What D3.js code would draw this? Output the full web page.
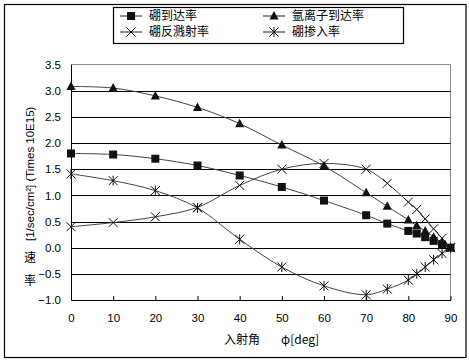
<!DOCTYPE html>
<html>
<head>
<meta charset="utf-8">
<script src="https://cdn.jsdelivr.net/npm/d3@7"></script>
<style>
  body { margin: 0; background: #fff; }
  text { font-family: "Liberation Sans", Arial, sans-serif; fill: #000; }
  .cjk { font-family: "Noto Sans CJK SC", "Noto Sans CJK JP", sans-serif; }
</style>
</head>
<body>
<svg width="469" height="362"></svg>
<script>
const svg = d3.select("svg");

// data
const angles = [0, 10, 20, 30, 40, 50, 60, 70, 75, 80, 82, 84, 86, 88, 90];
const boronArrival = [1.80, 1.78, 1.70, 1.57, 1.38, 1.16, 0.90, 0.62, 0.46, 0.32, 0.27, 0.20, 0.13, 0.06, 0];
const argonArrival = [3.08, 3.05, 2.90, 2.68, 2.37, 1.96, 1.56, 1.05, 0.79, 0.53, 0.42, 0.32, 0.20, 0.10, 0];
const boronSputter = [0.40, 0.48, 0.59, 0.77, 1.19, 1.50, 1.61, 1.50, 1.23, 0.87, 0.73, 0.55, 0.36, 0.18, 0];
const boronDoping = [1.41, 1.28, 1.09, 0.76, 0.16, -0.37, -0.73, -0.90, -0.79, -0.62, -0.50, -0.37, -0.23, -0.11, 0];

const seriesNames = ["硼到达率", "氩离子到达率", "硼反溅射率", "硼掺入率"];
const xTicks = [0, 10, 20, 30, 40, 50, 60, 70, 80, 90];
const yTicks = [-1, -0.5, 0, 0.5, 1, 1.5, 2, 2.5, 3, 3.5];

const series = [
  { name: seriesNames[0], values: boronArrival, marker: "square" },
  { name: seriesNames[1], values: argonArrival, marker: "triangle" },
  { name: seriesNames[2], values: boronSputter, marker: "cross" },
  { name: seriesNames[3], values: boronDoping, marker: "star" }
];

const plotLeft = 71, plotRight = 450.5, plotTop = 64.5, plotBottom = 300;

const x = d3.scaleLinear().domain([0, 90]).range([plotLeft, plotRight]);
const y = d3.scaleLinear().domain([-1, 3.5]).range([plotBottom, plotTop]);

// outer frame
svg.append("rect")
  .attr("x", 4.5).attr("y", 4.5)
  .attr("width", 461.5).attr("height", 353)
  .attr("fill", "none").attr("stroke", "#000").attr("stroke-width", 1.2);

// plot border (top/right gray)
svg.append("path")
  .attr("d", `M${plotLeft},${plotTop}H${plotRight}V${plotBottom}`)
  .attr("fill", "none").attr("stroke", "#8c8c8c");

// gridlines
svg.append("g").selectAll("line")
  .data(yTicks.filter(v => v > -1 && v < 3.5))
  .enter().append("line")
    .attr("x1", plotLeft).attr("x2", plotRight)
    .attr("y1", d => Math.round(y(d)) + 0.5)
    .attr("y2", d => Math.round(y(d)) + 0.5)
    .attr("stroke", "#000");

// axes
const xAxis = svg.append("g")
  .attr("transform", `translate(0,${plotBottom})`)
  .call(d3.axisBottom(x).tickValues(xTicks).tickSize(-4).tickPadding(14).tickSizeOuter(0));
xAxis.select(".domain").attr("stroke", "#000");
xAxis.selectAll("text").attr("font-size", 11.5).attr("font-family", "Liberation Sans, Arial, sans-serif");

const yAxis = svg.append("g")
  .attr("transform", `translate(${plotLeft},0)`)
  .call(d3.axisLeft(y).tickValues(yTicks).tickSize(0).tickPadding(10).tickSizeOuter(0));
yAxis.select(".domain").attr("stroke", "#000");
yAxis.selectAll("text").attr("font-size", 11.5).attr("font-family", "Liberation Sans, Arial, sans-serif");

// lines
const line = d3.line()
  .x((d, i) => x(angles[i]))
  .y(d => y(d))
  .curve(d3.curveCatmullRom.alpha(0.5));

svg.append("g").selectAll("path")
  .data(series)
  .enter().append("path")
    .attr("d", d => line(d.values))
    .attr("fill", "none")
    .attr("stroke", "#444")
    .attr("stroke-width", 1);

const drawMarker = (g, type) => {
  if (type === "square") {
    g.append("rect").attr("x", -4).attr("y", -4).attr("width", 8).attr("height", 8).attr("fill", "#111");
  } else if (type === "triangle") {
    g.append("path").attr("d", "M0,-5L4.6,3.5L-4.6,3.5Z").attr("fill", "#111");
  } else if (type === "cross") {
    g.append("path").attr("d", "M-4.5,-4.5L4.5,4.5M-4.5,4.5L4.5,-4.5")
      .attr("stroke", "#111").attr("stroke-width", 1).attr("fill", "none");
  } else {
    g.append("path").attr("d", "M-4.5,-4.5L4.5,4.5M-4.5,4.5L4.5,-4.5M0,-5V5")
      .attr("stroke", "#111").attr("stroke-width", 1).attr("fill", "none");
  }
};

series.forEach(s => {
  svg.append("g").selectAll("g")
    .data(s.values)
    .enter().append("g")
      .attr("transform", (d, i) => `translate(${x(angles[i])},${y(d)})`)
      .each(function() { drawMarker(d3.select(this), s.marker); });
});

// legend
const legend = svg.append("g");
legend.append("rect")
  .attr("x", 113.5).attr("y", 7.5)
  .attr("width", 290).attr("height", 36)
  .attr("fill", "#fff").attr("stroke", "#000").attr("stroke-width", 1.2);

const legendPos = [[120, 16], [263, 16], [120, 32], [263, 32]];
series.forEach((s, i) => {
  const [lx, ly] = legendPos[i];
  const item = legend.append("g").attr("transform", `translate(${lx},${ly})`);
  item.append("line").attr("x1", 0).attr("x2", 22).attr("stroke", "#222");
  const m = item.append("g").attr("transform", "translate(11,0)");
  drawMarker(m, s.marker);
  item.append("text")
    .attr("class", "cjk")
    .attr("x", 29).attr("dy", "0.35em")
    .attr("font-size", 12)
    .text(s.name);
});

// axis titles
svg.append("text").attr("class", "cjk")
  .attr("x", 242).attr("y", 344).attr("text-anchor", "middle")
  .attr("font-size", 12).text("入射角");
svg.append("text").attr("class", "cjk")
  .attr("x", 300).attr("y", 344).attr("text-anchor", "middle")
  .attr("font-size", 12).text("φ[deg]");

svg.append("text")
  .attr("transform", "translate(34,241) rotate(-90)")
  .attr("font-size", 11.5)
  .text("[1/sec/cm²] (Times 10E15)");
svg.append("text").attr("class", "cjk")
  .attr("x", 30).attr("y", 262).attr("text-anchor", "middle")
  .attr("font-size", 12).text("速");
svg.append("text").attr("class", "cjk")
  .attr("x", 30).attr("y", 285).attr("text-anchor", "middle")
  .attr("font-size", 12).text("率");
</script>
</body>
</html>
